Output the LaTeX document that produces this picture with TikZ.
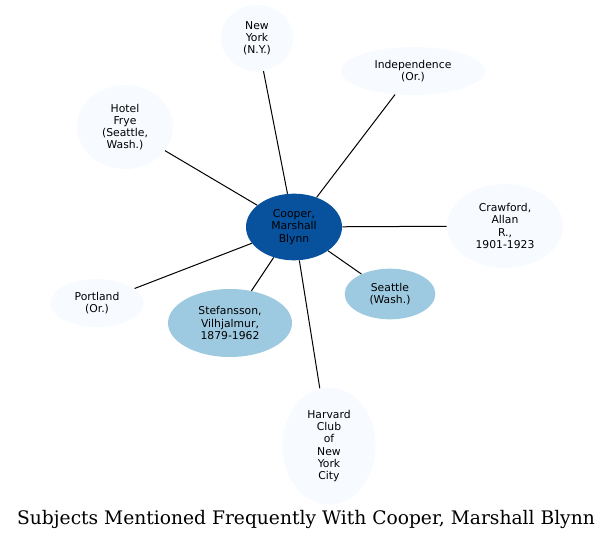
\documentclass[tikz,border=0pt]{standalone}
\usepackage{fontspec}
\setmainfont{DejaVu Sans}
\newfontfamily\titlefont{DejaVu Serif}
\usetikzlibrary{shapes.geometric,positioning}
\definecolor{hubblue}{HTML}{08519C}
\definecolor{midblue}{HTML}{9ECAE1}
\definecolor{paleblue}{HTML}{F7FBFF}
\tikzset{
 subj/.style={ellipse,inner sep=0pt,align=center,font=\fontsize{8.1}{9.1}\selectfont},
 pale/.style={subj,fill=paleblue},
 mid/.style={subj,fill=midblue},
 hub/.style={subj,fill=hubblue}
}

\begin{document}
\begin{tikzpicture}[x=0.75pt,y=-0.75pt]
 \useasboundingbox (0,0) rectangle (613,541);
 % nodes (sizes in pt = 0.75 px)
 \node (hub) at (294,227) [hub,minimum width=72pt,minimum height=50pt] {Cooper,\\Marshall\\Blynn};
 \node (n0) at (257,38) [pale,minimum width=54pt,minimum height=50pt] {New\\York\\(N.Y.)};
 \node (n1) at (413,71) [pale,minimum width=108pt,minimum height=36pt] {Independence\\(Or.)};
 \node (n2) at (125,127) [pale,minimum width=72pt,minimum height=63pt] {Hotel\\Frye\\(Seattle,\\Wash.)};
 \node (n3) at (505,226) [pale,minimum width=87pt,minimum height=63pt] {Crawford,\\Allan\\R.,\\1901-1923};
 \node (n4) at (390,294) [mid,minimum width=68pt,minimum height=38pt] {Seattle\\(Wash.)};
 \node (n5) at (329,446) [pale,minimum width=70pt,minimum height=88pt] {Harvard\\Club\\of\\New\\York\\City};
 \node (n6) at (230,323) [mid,minimum width=93pt,minimum height=51pt] {Stefansson,\\Vilhjalmur,\\1879-1962};
 \node (n7) at (97,303) [pale,minimum width=70pt,minimum height=36pt] {Portland\\(Or.)};

 % connectors
 \foreach \x in {0,...,7} {
  \draw[line width=0.75pt] (hub) -- (n\x);
 };

 % title
 \node (title) at (306,519) {\titlefont\fontsize{14}{16}\selectfont Subjects Mentioned Frequently With Cooper, Marshall Blynn};
\end{tikzpicture}
\end{document}
